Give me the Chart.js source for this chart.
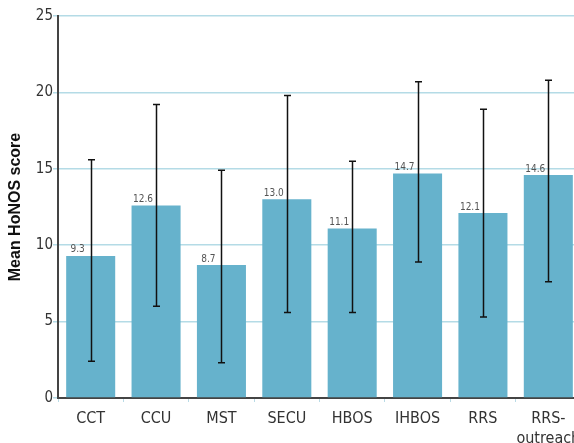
<!DOCTYPE html>
<html>
<head>
<meta charset="utf-8">
<script src="https://cdn.jsdelivr.net/npm/chart.js@4.4.1/dist/chart.umd.min.js"></script>
<style>
  html, body { margin: 0; padding: 0; background: #fff; overflow: hidden; }
  #wrap { position: relative; width: 581px; height: 443px; }
</style>
</head>
<body>
<div id="wrap"><canvas id="c"></canvas></div>
<script>
// Service types along the x axis
const categories = ['CCT', 'CCU', 'MST', 'SECU', 'HBOS', 'IHBOS', 'RRS', ['RRS-', 'outreach']];
// Mean HoNOS score per service
const means = [9.3, 12.6, 8.7, 13.0, 11.1, 14.7, 12.1, 14.6];
// Lower and upper ends of the error bars
const errLow  = [2.4, 6.0, 2.3, 5.6, 5.6, 8.9, 5.3, 7.6];
const errHigh = [15.6, 19.2, 14.9, 19.8, 15.5, 20.7, 18.9, 20.8];
// Y axis ticks
const yTicks = [0, 5, 10, 15, 20, 25];

const NARROW = '"Liberation Sans Narrow", "DejaVu Sans Condensed", "Roboto Condensed", Roboto, sans-serif';

// Whiskers drawn through the chart's own scales
const errorBars = {
  id: 'errorBars',
  afterDatasetsDraw(chart) {
    const ctx = chart.ctx;
    const y = chart.scales.y;
    const meta = chart.getDatasetMeta(0);
    ctx.save();
    ctx.strokeStyle = '#111';
    ctx.lineWidth = 1.5;
    meta.data.forEach((bar, i) => {
      const cx = Math.round(bar.x) + 0.5;
      const yl = y.getPixelForValue(errLow[i]);
      const yh = y.getPixelForValue(errHigh[i]);
      ctx.beginPath();
      ctx.moveTo(cx, yl); ctx.lineTo(cx, yh);
      ctx.moveTo(cx - 3.5, yl); ctx.lineTo(cx + 3.5, yl);
      ctx.moveTo(cx - 3.5, yh); ctx.lineTo(cx + 3.5, yh);
      ctx.stroke();
    });
    ctx.restore();
  }
};

// Value labels above each bar, slightly left of centre
const valueLabels = {
  id: 'valueLabels',
  afterDatasetsDraw(chart) {
    const ctx = chart.ctx;
    const meta = chart.getDatasetMeta(0);
    ctx.save();
    ctx.font = '10px ' + NARROW;
    ctx.fillStyle = '#555';
    ctx.textAlign = 'center';
    ctx.textBaseline = 'bottom';
    meta.data.forEach((bar, i) => {
      ctx.fillText(means[i].toFixed(1), bar.x - 13, bar.y - 1);
    });
    ctx.restore();
  }
};

new Chart(document.getElementById('c'), {
  type: 'bar',
  data: {
    labels: categories,
    datasets: [{
      data: means,
      backgroundColor: '#66b2cc',
      borderWidth: 0,
      categoryPercentage: 0.75,
      barPercentage: 1.0
    }]
  },
  options: {
    responsive: true,
    maintainAspectRatio: false,
    animation: false,
    events: [],
    layout: { padding: { top: 16, right: 0, left: 0, bottom: 0 } },
    plugins: { legend: { display: false }, tooltip: { enabled: false } },
    scales: {
      x: {
        afterFit(s) { s.height = 45; s.paddingLeft = 0; s.paddingRight = 0; },
        grid: {
          display: true,
          drawOnChartArea: false,
          offset: true,
          tickLength: 4,
          color: '#b9dbe6',
          lineWidth: 1
        },
        border: { display: true, color: '#444', width: 2 },
        ticks: {
          color: '#333',
          padding: 7,
          maxRotation: 0,
          autoSkip: false,
          font: { family: NARROW, size: 16, lineHeight: 1.25 }
        }
      },
      y: {
        min: 0,
        max: 25,
        afterFit(s) { s.width = 58; },
        afterBuildTicks(s) { s.ticks = yTicks.map(v => ({ value: v })); },
        grid: {
          color: '#b4dbe6',
          lineWidth: 1.5,
          tickLength: 5,
          drawTicks: true
        },
        border: { display: true, color: '#444', width: 2 },
        ticks: {
          color: '#333',
          padding: 0,
          font: { family: NARROW, size: 15 }
        },
        title: {
          display: true,
          text: 'Mean HoNOS score',
          color: '#111',
          padding: { top: 6, bottom: 0 },
          font: { family: '"Liberation Sans", Arial, sans-serif', size: 16, weight: 'bold' }
        }
      }
    }
  },
  plugins: [errorBars, valueLabels]
});
</script>
</body>
</html>
